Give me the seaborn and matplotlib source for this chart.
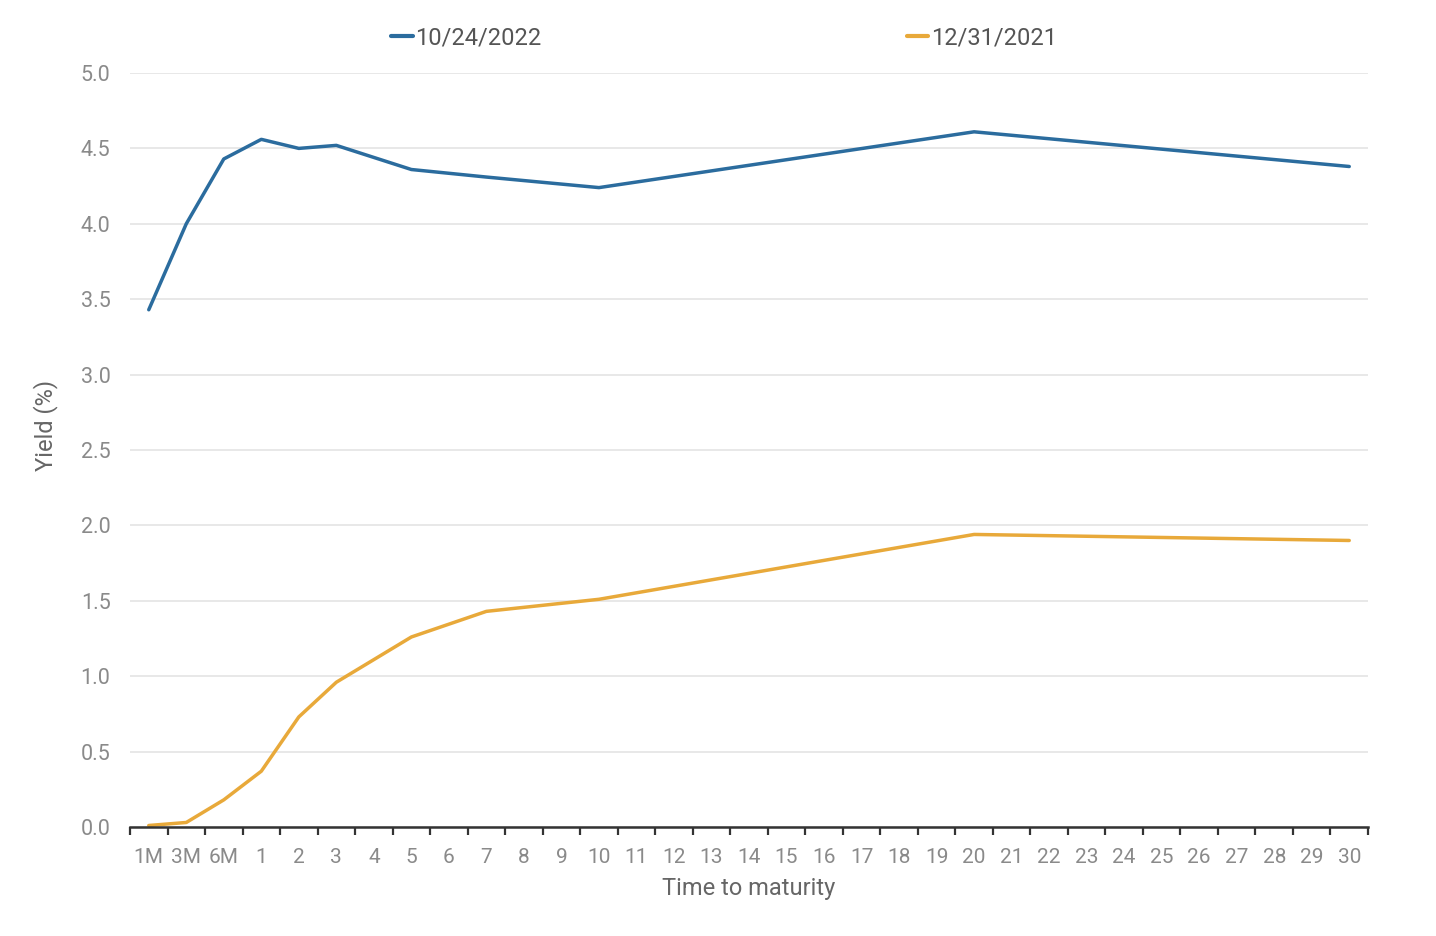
import pandas as pd
import matplotlib.pyplot as plt
from matplotlib.ticker import FixedLocator
import seaborn as sns

# x axis categories (one band each)
categories = ['1M', '3M', '6M'] + [str(i) for i in range(1, 31)]

# maturities that have a yield quote
maturities = ['1M', '3M', '6M', '1', '2', '3', '5', '7', '10', '20', '30']
yield_2022 = [3.43, 4.00, 4.43, 4.56, 4.50, 4.52, 4.36, 4.31, 4.24, 4.61, 4.38]
yield_2021 = [0.01, 0.03, 0.18, 0.37, 0.73, 0.96, 1.26, 1.43, 1.51, 1.94, 1.90]
series_names = ['10/24/2022', '12/31/2021']
colors = ['#2b6c9e', '#e8a93a']

df = pd.DataFrame({
    'maturity': maturities * 2,
    'yield': yield_2022 + yield_2021,
    'date': [series_names[0]] * len(maturities) + [series_names[1]] * len(maturities),
})
df['pos'] = df['maturity'].map({c: i for i, c in enumerate(categories)})

sns.set_style('white')
plt.rcParams['font.family'] = ['Roboto', 'DejaVu Sans']

fig = plt.figure(figsize=(14.36, 9.36), dpi=100)
ax = fig.add_axes([130 / 1436, 1 - 827 / 936, (1368 - 130) / 1436, (827 - 73) / 936])

sns.lineplot(data=df, x='pos', y='yield', hue='date', palette=colors,
             hue_order=series_names, linewidth=2.5, ax=ax, legend=False)

ax.set_xlim(-0.5, len(categories) - 0.5)
ax.set_ylim(0, 5)
ax.set_yticks([i * 0.5 for i in range(11)])
ax.set_yticklabels([f'{i * 0.5:.1f}' for i in range(11)])
ax.grid(axis='y', color='#e4e4e4', linewidth=1.2)
ax.set_axisbelow(True)

ax.set_xticks(range(len(categories)))
ax.set_xticklabels(categories)
ax.xaxis.set_minor_locator(FixedLocator([i - 0.5 for i in range(len(categories) + 1)]))
ax.tick_params(axis='x', which='major', length=0, pad=15, labelsize=15, colors='#8a8a8a')
ax.tick_params(axis='x', which='minor', length=6, width=1.6, color='#333333', direction='out', bottom=True)
ax.tick_params(axis='y', length=0, pad=14, labelsize=15.5, colors='#8a8a8a')

for s in ['top', 'right', 'left']:
    ax.spines[s].set_visible(False)
ax.spines['bottom'].set_color('#333333')
ax.spines['bottom'].set_linewidth(1.8)

ax.set_xlabel('Time to maturity', fontsize=17, color='#666666', labelpad=7)
ax.set_ylabel('Yield (%)', fontsize=17, color='#666666')
ax.yaxis.set_label_coords(-0.058, 0.532)

handles = [plt.Line2D([], [], color=c, linewidth=3) for c in colors]
fig.legend(handles, series_names, loc='center', bbox_to_anchor=(724 / 1436, 1 - 38 / 936),
           ncol=2, frameon=False, fontsize=17, handlelength=0.9, handletextpad=0.1,
           columnspacing=15.5, labelcolor='#555555')

fig.savefig('out.png', dpi=100)
